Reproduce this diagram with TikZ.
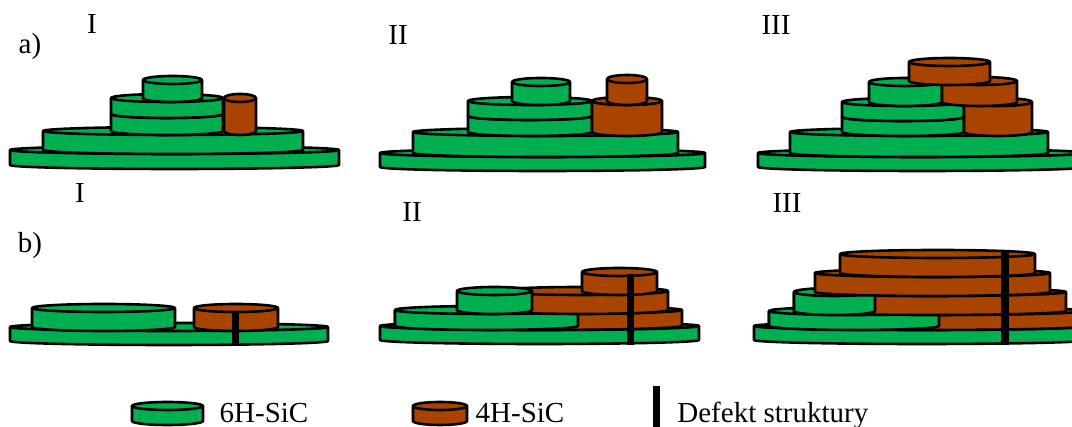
\documentclass[tikz,border=0pt]{standalone}
\usepackage{fontspec}
\setmainfont{Liberation Serif}
\definecolor{sicgreen}{RGB}{0,176,80}
\definecolor{sicbrown}{RGB}{168,68,0}
\newcommand{\sicdisk}[5]{%
  \pgfmathsetmacro{\diskrx}{(#3-#2)/2}
  \filldraw[disk, fill=#1] (#2,{427-#4}) -- (#2,{427-#5})
    arc[start angle=180, end angle=360, x radius=\diskrx, y radius=4]
    -- (#3,{427-#4})
    arc[start angle=0, end angle=180, x radius=\diskrx, y radius=4] -- cycle;
  \draw[disk] (#2,{427-#4}) arc[start angle=180, end angle=360, x radius=\diskrx, y radius=4];
}

\begin{document}
\begin{tikzpicture}[x=0.5pt, y=0.5pt,
    disk/.style={draw=black, line width=1.3pt, line join=round},
    defekt/.style={line width=3.6pt},
    lbl/.style={inner sep=0pt, anchor=base, font=\fontsize{14.5}{17}\selectfont}]
    \useasboundingbox (0,0) rectangle (1072,427);
    \clip (0,0) rectangle (1072,427);

    \node[lbl] (pa) at (30,{427-54}) {a)};
    \node[lbl] (pb) at (30,{427-253}) {b)};
    \node[lbl] (a1) at (92,{427-34}) {I};
    \node[lbl] (a2) at (398,{427-45}) {II};
    \node[lbl] (a3) at (776,{427-35}) {III};
    \node[lbl] (b1) at (80,{427-203}) {I};
    \node[lbl] (b2) at (412,{427-222}) {II};
    \node[lbl] (b3) at (787,{427-213}) {III};

    \sicdisk{sicgreen}{10}{339}{150}{165}
    \sicdisk{sicgreen}{43}{303}{131}{150}
    \sicdisk{sicgreen}{111}{223}{114}{131}
    \sicdisk{sicgreen}{111}{223}{98}{114}
    \sicdisk{sicgreen}{143}{202}{80}{98}
    \sicdisk{sicbrown}{224}{256}{98}{131}

    \sicdisk{sicgreen}{380}{705}{153}{167}
    \sicdisk{sicgreen}{413}{678}{132}{153}
    \sicdisk{sicgreen}{468}{592}{116}{132}
    \sicdisk{sicgreen}{468}{592}{101}{116}
    \sicdisk{sicgreen}{512}{570}{82}{101}
    \sicdisk{sicbrown}{592}{662}{101}{132}
    \sicdisk{sicbrown}{607}{647}{79}{101}

    \sicdisk{sicgreen}{758}{1086}{153}{167}
    \sicdisk{sicgreen}{790}{1048}{132}{153}
    \sicdisk{sicgreen}{842}{964}{117}{132}
    \sicdisk{sicgreen}{842}{964}{102}{117}
    \sicdisk{sicbrown}{964}{1032}{102}{132}
    \sicdisk{sicgreen}{869}{942}{82}{102}
    \sicdisk{sicbrown}{942}{1017}{81}{102}
    \sicdisk{sicbrown}{909}{990}{62}{81}

    \sicdisk{sicgreen}{10}{328}{327}{341}
    \sicdisk{sicgreen}{32}{175}{308}{327}
    \sicdisk{sicbrown}{194}{278}{308}{327}
    \draw[defekt] (235.5,{427-312}) -- (235.5,{427-345});

    \sicdisk{sicgreen}{380}{699}{326}{340}
    \sicdisk{sicbrown}{395}{682}{310}{326}
    \sicdisk{sicgreen}{395}{578}{310}{326}
    \sicdisk{sicbrown}{495}{668}{291}{310}
    \sicdisk{sicgreen}{457}{532}{291}{310}
    \sicdisk{sicbrown}{582}{657}{272}{291}
    \draw[defekt] (630.5,{427-274}) -- (630.5,{427-345});

    \sicdisk{sicgreen}{754}{1090}{326}{340}
    \sicdisk{sicbrown}{769}{1086}{311}{326}
    \sicdisk{sicgreen}{769}{939}{311}{326}
    \sicdisk{sicbrown}{794}{1066}{292}{311}
    \sicdisk{sicgreen}{794}{875}{292}{311}
    \sicdisk{sicbrown}{815}{1050}{273}{292}
    \sicdisk{sicbrown}{840}{1035}{254}{273}
    \draw[defekt] (1005,{427-252}) -- (1005,{427-345});

    \sicdisk{sicgreen}{132}{203}{406}{421}
    \node[lbl] (g6h) at (264,{427-423}) {6H-SiC};
    \sicdisk{sicbrown}{413}{467}{406}{421}
    \node[lbl] (g4h) at (520,{427-423}) {4H-SiC};
    \draw[defekt] (656.5,{427-386}) -- (656.5,0);
    \node[lbl, anchor=base west] (gdef) at (677,{427-423}) {Defekt struktury};
\end{tikzpicture}
\end{document}
